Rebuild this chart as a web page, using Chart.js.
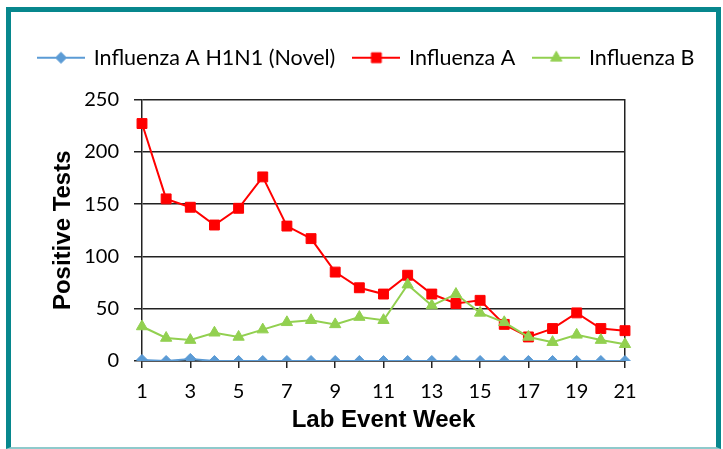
<!DOCTYPE html>
<html><head><meta charset="utf-8">
<script src="https://cdn.jsdelivr.net/npm/chart.js@4"></script>
<style>
html,body{margin:0;padding:0;background:#fff;}
#frame{position:absolute;left:6px;top:7px;width:705px;height:435px;border:5px solid #07878d;border-bottom:2px solid #8fcacc;}
#c{position:absolute;left:0;top:0;}
</style></head><body>
<div id="frame"></div>
<canvas id="c" width="723" height="449"></canvas>
<script>
const weeks = ['1','2','3','4','5','6','7','8','9','10','11','12','13','14','15','16','17','18','19','20','21'];
const h1n1 = [1,0,2,0,0,0,0,0,0,0,0,0,0,0,0,0,0,0,0,0,0];
const fluA = [227,155,147,130,146,176,129,117,85,70,64,82,64,55,58,35,23,31,46,31,29];
const fluB = [33,22,20,27,23,30,37,39,35,42,39,73,53,64,46,37,23,18,25,20,16];
const yMin = 0, yMax = 250, yStep = 50;

const AXIS = '#222';
const tickFont = {family: 'Lato', size: 20};
const legendFont = {family: 'Lato', size: 21.5};
const titleFont = {family: 'Liberation Sans', weight: 'bold', size: 24};

function legendImg(color, style, r) {
  const c = document.createElement('canvas');
  c.width = 48; c.height = 16;
  const g = c.getContext('2d');
  g.strokeStyle = color; g.lineWidth = 2;
  g.beginPath(); g.moveTo(0, 8); g.lineTo(48, 8); g.stroke();
  g.fillStyle = color; g.lineWidth = 1;
  Chart.helpers.drawPoint(g, {pointStyle: style, radius: r, borderWidth: 1, rotation: 0}, 24, 8);
  return c;
}

const series = [
  {label: 'Influenza A H1N1 (Novel)', data: h1n1, color: '#5b9bd5', style: 'rectRot', r: 5.5, order: 0},
  {label: 'Influenza A', data: fluA, color: '#ff0000', style: 'rect', r: 7, order: 2},
  {label: 'Influenza B', data: fluB, color: '#92d050', style: 'triangle', r: 6.5, order: 1}
];
const imgs = series.map(s => legendImg(s.color, s.style, s.r));

new Chart(document.getElementById('c'), {
  type: 'line',
  data: {
    labels: weeks,
    datasets: series.map(s => ({
      label: s.label, data: s.data, order: s.order,
      borderColor: s.color, backgroundColor: s.color,
      pointBackgroundColor: s.color, pointBorderColor: s.color,
      pointStyle: s.style, pointRadius: s.r, pointBorderWidth: 1,
      borderWidth: 2, tension: 0, fill: false
    }))
  },
  options: {
    responsive: false, animation: false,
    layout: {padding: {left: 20, right: 0, top: 28, bottom: 10}},
    plugins: {
      tooltip: {enabled: false},
      legend: {
        position: 'top', align: 'start',
        labels: {
          usePointStyle: true, pointStyleWidth: 44, padding: 19,
          font: legendFont, color: '#000',
          generateLabels: (chart) => chart.data.datasets.map((ds, i) => ({
            text: ds.label, pointStyle: imgs[i], datasetIndex: i,
            fillStyle: ds.borderColor, strokeStyle: ds.borderColor, lineWidth: 0, hidden: false, fontColor: '#000'
          }))
        }
      }
    },
    scales: {
      x: {
        type: 'category', offset: false,
        grid: {
          display: true, drawOnChartArea: false, lineWidth: 1.5, tickLength: 7,
          tickColor: (ctx) => ctx.index % 2 === 0 ? AXIS : 'rgba(0,0,0,0)'
        },
        border: {display: true, color: AXIS, width: 1.5},
        ticks: {autoSkip: false, maxRotation: 0, padding: 12, font: tickFont, color: '#000',
          callback: (v, i) => i % 2 === 0 ? weeks[i] : ''},
        title: {display: true, text: 'Lab Event Week', font: titleFont, color: '#000', padding: {top: 0, bottom: 4}},
        afterFit: (s) => { s.height = 78; }
      },
      x2: {
        type: 'category', position: 'top', display: true,
        grid: {display: false}, border: {display: false}, ticks: {display: false},
        afterFit: (s) => { s.height = 21; }
      },
      y: {
        min: yMin, max: yMax,
        ticks: {stepSize: yStep, padding: 15, font: tickFont, color: '#000'},
        grid: {color: AXIS, lineWidth: 1.5, tickLength: 8},
        border: {display: true, color: AXIS, width: 1.5},
        title: {display: true, text: 'Positive Tests', font: titleFont, color: '#000', padding: {top: 29, bottom: 0}},
        afterFit: (s) => { s.width = 122; }
      },
      y2: {
        position: 'right', min: yMin, max: yMax, display: true,
        grid: {display: false}, ticks: {display: false},
        border: {display: true, color: AXIS, width: 1.5},
        afterFit: (s) => { s.width = 98; }
      }
    }
  }
});
</script>
</body></html>
